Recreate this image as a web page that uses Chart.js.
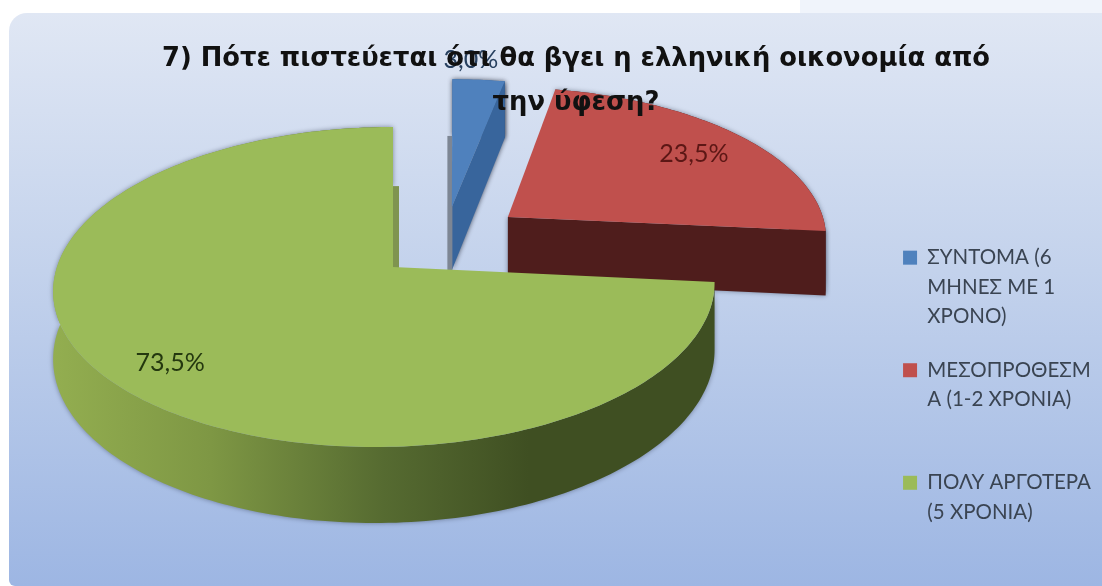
<!DOCTYPE html>
<html>
<head>
<meta charset="utf-8">
<title>7) Πότε πιστεύεται</title>
<script src="https://cdn.jsdelivr.net/npm/chart.js@4/dist/chart.umd.min.js"></script>
<style>
html,body{margin:0;padding:0;background:#fff;overflow:hidden}
canvas{display:block;filter:blur(0.7px)}
</style>
</head>
<body>
<canvas id="pie" width="1102" height="586"></canvas>
<script>
// Data
const categories=[
  ['ΣΥΝΤΟΜΑ (6','ΜΗΝΕΣ ΜΕ 1','ΧΡΟΝΟ)'],
  ['ΜΕΣΟΠΡΟΘΕΣΜ','Α (1-2 ΧΡΟΝΙΑ)',''],
  ['ΠΟΛΥ ΑΡΓΟΤΕΡΑ','(5 ΧΡΟΝΙΑ)']
];
const values=[3.0,23.5,73.5];
const titleLines=['7) Πότε πιστεύεται ότι θα βγει η ελληνική οικονομία από','την ύφεση?'];

// Colours
const topColors=['#4f81bd','#c0504d','#9bbb59'];
const wallColors=['#38659c','#4f1d1c','#5a7033'];
const labelColors=['#27405f','#5c1715','#24380f'];

// Fake 3D: unit circle projected on the page
const CX=385,CY=267,RX=328,RY=157.5,K=0.125,SKEW=9,DEPTH=66.5;
const explode=[[0.203,-0.4],[0.381,-0.33],[0,0]];
const labelRadius=[1.18,0.81,0.83];
const labelShift=[[-12,0],[-4,4],[7,1]];

function project(x,y){
  const w=1-K*y;
  return {x:CX+(RX*x-SKEW*y)/w,y:CY+RY*y/w,d:DEPTH/w};
}
function rim(a1,a2,ex){
  const pts=[];
  const n=Math.max(2,Math.ceil((a2-a1)/0.02));
  for(let i=0;i<=n;i++){
    const a=a1+(a2-a1)*i/n;
    pts.push(project(Math.cos(a)+ex[0],Math.sin(a)+ex[1]));
  }
  return pts;
}

function drawSlice(ctx,arc,i){
  const ex=explode[i];
  const apex=project(ex[0],ex[1]);
  const pts=rim(arc.startAngle,arc.endAngle,ex);
  const first=pts[0];
  const last=pts[pts.length-1];
  // the big slice has a straight vertical cut on the page
  if(i===2) apex.x=last.x;

  // walls
  ctx.save();
  ctx.shadowColor=i===0?'rgba(50,55,70,0.85)':'rgba(50,60,80,0.55)';
  ctx.shadowBlur=5;
  let fill=wallColors[i];
  if(i===2){
    fill=ctx.createLinearGradient(52,0,714,0);
    fill.addColorStop(0,'#93ae50');
    fill.addColorStop(0.24,'#7e9744');
    fill.addColorStop(0.5,'#566b31');
    fill.addColorStop(0.72,'#3f4f22');
    fill.addColorStop(1,'#3f4f22');
  }
  ctx.fillStyle=fill;
  ctx.beginPath();
  pts.forEach((p,j)=>j?ctx.lineTo(p.x,p.y):ctx.moveTo(p.x,p.y));
  for(let j=pts.length-1;j>=0;j--) ctx.lineTo(pts[j].x,pts[j].y+pts[j].d);
  ctx.closePath();
  ctx.fill();
  // cut face at the end of the slice
  if(i<2){
    ctx.beginPath();
    ctx.moveTo(apex.x,apex.y);
    ctx.lineTo(last.x,last.y);
    ctx.lineTo(last.x,last.y+last.d);
    ctx.lineTo(apex.x,apex.y+apex.d);
    ctx.closePath();
    ctx.fill();
  }
  ctx.restore();

  // thin edge strip beside the vertical cuts
  if(i===0||i===2){
    const top=i===0?first:last;
    const w=i===0?-5:6;
    ctx.fillStyle=i===0?'#7d8694':'#7f9450';
    ctx.fillRect(top.x,top.y+top.d,w,apex.y+apex.d-top.y-top.d);
  }

  // top
  ctx.fillStyle=topColors[i];
  ctx.beginPath();
  ctx.moveTo(apex.x,apex.y);
  pts.forEach(p=>ctx.lineTo(p.x,p.y));
  ctx.closePath();
  ctx.fill();
}

function drawLabel(ctx,arc,i){
  const mid=(arc.startAngle+arc.endAngle)/2;
  const p=project(labelRadius[i]*Math.cos(mid)+explode[i][0],labelRadius[i]*Math.sin(mid)+explode[i][1]);
  ctx.font='25px Lato, "Open Sans", sans-serif';
  ctx.textAlign='center';
  ctx.textBaseline='middle';
  ctx.fillStyle=labelColors[i];
  ctx.fillText(values[i].toFixed(1).replace('.',',')+'%',p.x+labelShift[i][0],p.y+labelShift[i][1]);
}

const pie3d={
  id:'pie3d',
  // legend sits lower than the centre of the space under the title
  afterLayout(chart){
    chart.legend.top+=78;
    chart.legend.bottom+=78;
    chart.legend.left-=1;
    chart.legend.right-=1;
  },
  // runs before the title and legend layers, the title sits over the slices
  beforeDraw(chart){
    const ctx=chart.ctx;
    ctx.save();
    ctx.fillStyle='#fff';
    ctx.fillRect(0,0,1102,586);
    ctx.fillStyle='#f0f4fb';
    ctx.fillRect(800,0,302,13);
    const bg=ctx.createLinearGradient(0,13,0,586);
    bg.addColorStop(0,'#e0e7f4');
    bg.addColorStop(0.45,'#c3d2ec');
    bg.addColorStop(1,'#9db6e3');
    ctx.fillStyle=bg;
    ctx.beginPath();
    ctx.roundRect(9,13,1120,573,[18,18,6,6]);
    ctx.fill();
    const arcs=chart.getDatasetMeta(0).data;
    arcs.forEach((arc,i)=>drawSlice(ctx,arc,i));
    arcs.forEach((arc,i)=>drawLabel(ctx,arc,i));
    ctx.restore();
  },
  beforeDatasetsDraw(){return false;}
};

new Chart(document.getElementById('pie'),{
  type:'pie',
  data:{labels:categories,datasets:[{data:values,backgroundColor:topColors,borderWidth:0}]},
  options:{
    responsive:false,
    animation:false,
    layout:{padding:{top:37,left:50,right:0}},
    plugins:{
      tooltip:{enabled:false},
      title:{
        display:true,
        text:titleLines,
        color:'#111',
        font:{family:'"DejaVu Sans"',size:25.8,weight:'bold',lineHeight:1.7},
        padding:{top:0,bottom:0}
      },
      legend:{
        position:'right',
        labels:{
          color:'#3a4452',
          font:{family:'Lato, "Open Sans", sans-serif',size:20.5,lineHeight:1.44},
          boxWidth:14,
          boxHeight:14,
          padding:24
        }
      }
    }
  },
  plugins:[pie3d]
});
</script>
</body>
</html>
